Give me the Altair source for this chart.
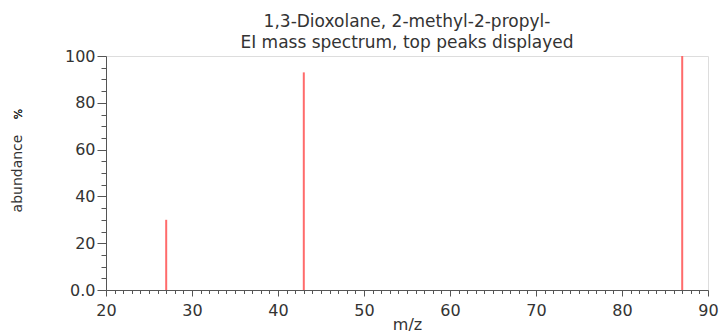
import altair as alt
import pandas as pd

# Data
mz = [27, 43, 87]
abundance = [30, 93, 100]

title_lines = ["1,3-Dioxolane, 2-methyl-2-propyl-", "EI mass spectrum, top peaks displayed"]
x_ticks = list(range(20, 91, 1))
y_ticks = list(range(0, 101, 5))

df = pd.DataFrame({"mz": mz, "abundance": abundance})

FONT = "DejaVu Sans"
AXC = "#555555"
TXT = "#333333"

x_axis = alt.Axis(
    values=x_ticks,
    labelExpr="datum.value % 10 === 0 ? datum.label : ''",
    tickSize={"condition": {"test": "datum.value % 10 === 0", "value": 6}, "value": 3.5},
    tickColor=AXC,
    domainColor=AXC,
    labelColor=TXT,
    labelFont=FONT,
    labelFontSize=16,
    labelPadding=6,
    labelFlush=False,
    labelOverlap=False,
    grid=False,
    title="m/z",
    titleFont=FONT,
    titleFontSize=16,
    titleFontWeight="normal",
    titleColor=TXT,
    titleY=26,
    titleBaseline="top",
)

y_axis = alt.Axis(
    values=y_ticks,
    labelExpr="datum.value === 0 ? '0.0' : (datum.value % 20 === 0 ? datum.label : '')",
    tickSize={"condition": {"test": "datum.value % 20 === 0", "value": 9}, "value": 5},
    tickColor=AXC,
    domainColor=AXC,
    labelColor=TXT,
    labelFont=FONT,
    labelFontSize=16,
    labelPadding=2,
    labelFlush=False,
    labelOverlap=False,
    grid=False,
    title="abundance",
    titleFont=FONT,
    titleFontSize=14,
    titleFontWeight="normal",
    titleColor=TXT,
    titleX=-82,
    titleY=117,
)

peaks = alt.Chart(df).mark_rule(color="#ff6b6b", strokeWidth=2).encode(
    x=alt.X("mz:Q", scale=alt.Scale(domain=[20, 90], nice=False, zero=False), axis=x_axis),
    y=alt.Y("abundance:Q", scale=alt.Scale(domain=[0, 100], nice=False), axis=y_axis),
    y2=alt.datum(0),
)

pct = alt.Chart(df).mark_text(
    text="%", angle=270, font=FONT, fontSize=11, color=TXT
).encode(x=alt.value(-87), y=alt.value(58))

chart = (
    alt.layer(peaks, pct)
    .properties(
        width=602,
        height=234,
        title=alt.TitleParams(
            text=title_lines,
            anchor="middle",
            font=FONT,
            fontSize=17,
            fontWeight="normal",
            color=TXT,
            lineHeight=21,
            offset=0,
            dy=4,
        ),
        autosize=alt.AutoSizeParams(type="none"),
        padding={"left": 106, "top": 56, "right": 12, "bottom": 44},
    )
    .configure_view(stroke="#777777", strokeWidth=1)
    .configure(background="white")
)

chart.save("out.html", embed_options={"renderer": "svg", "actions": False})
